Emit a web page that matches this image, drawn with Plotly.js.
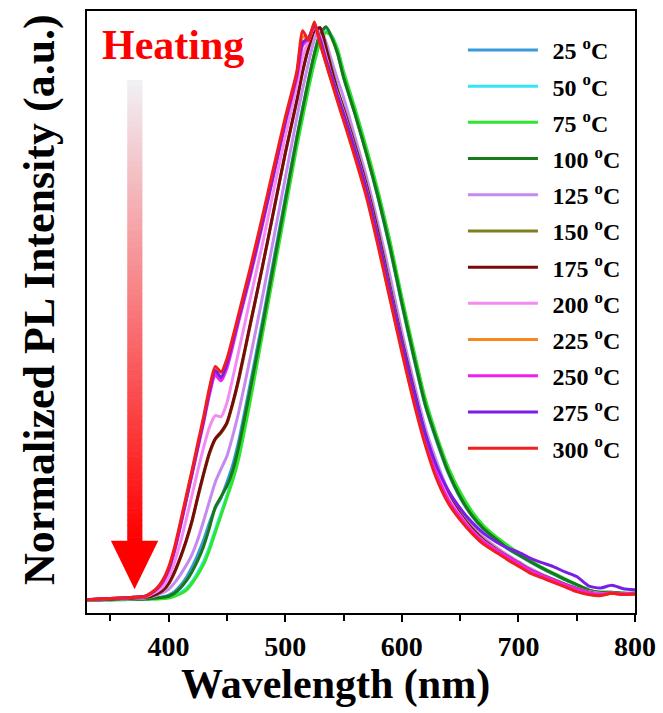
<!DOCTYPE html>
<html>
<head>
<meta charset="utf-8">
<script src="https://cdn.plot.ly/plotly-3.0.1.min.js"></script>
<style>html,body{margin:0;padding:0;background:#fff;}#chart{width:663px;height:713px;}</style>
</head>
<body>
<div id="chart"></div>
<script>
// Wavelength grid (nm)
const wavelength = [330,340,350,360,370,380,385,390,395,400,
  405,410,415,420,425,430,435,440,445,450,
  455,460,470,480,490,500,510,515,520,525,
  530,535,540,545,550,560,570,580,590,600,
  610,620,630,640,650,660,670,680,690,700,
  710,720,730,740,750,760,770,780,790,800];

const s25 = [.002,.002,.002,.003,.003,.003,.004,.005,.007,.010,
  .016,.026,.040,.058,.080,.105,.135,.160,.178,.205,
  .235,.275,.375,.478,.588,.695,.802,.852,.900,.945,
  .980,.990,.975,.945,.905,.840,.770,.693,.607,.512,
  .422,.338,.275,.220,.178,.147,.124,.107,.091,.079,
  .067,.056,.046,.036,.027,.018,.014,.014,.013,.013];
const s50 = [.002,.002,.002,.002,.003,.003,.003,.004,.004,.006,
  .009,.014,.021,.033,.049,.068,.093,.123,.152,.182,
  .212,.250,.350,.460,.570,.680,.790,.840,.888,.932,
  .968,.985,.975,.952,.912,.848,.778,.703,.618,.522,
  .432,.347,.283,.228,.186,.153,.129,.111,.096,.082,
  .069,.057,.047,.037,.027,.018,.014,.014,.013,.013];
const s75 = [.002,.002,.002,.002,.003,.003,.003,.003,.004,.005,
  .008,.012,.018,.030,.045,.063,.088,.118,.148,.178,
  .208,.245,.345,.455,.565,.675,.785,.835,.885,.930,
  .965,.982,.975,.952,.915,.850,.780,.705,.620,.525,
  .435,.350,.285,.230,.188,.155,.130,.112,.097,.083,
  .070,.058,.048,.038,.028,.019,.015,.015,.013,.013];
const s100 = [.002,.002,.002,.003,.003,.003,.004,.005,.006,.008,
  .013,.022,.034,.050,.070,.094,.126,.162,.180,.198,
  .225,.265,.365,.470,.580,.690,.800,.850,.900,.945,
  .980,.992,.972,.945,.905,.840,.770,.695,.610,.515,
  .425,.340,.278,.222,.180,.148,.125,.108,.092,.080,
  .068,.057,.047,.037,.028,.019,.015,.015,.013,.013];
const s125 = [.002,.002,.003,.003,.004,.005,.007,.010,.014,.020,
  .031,.045,.061,.080,.106,.138,.172,.205,.228,.250,
  .285,.325,.420,.520,.625,.730,.835,.885,.930,.970,
  .990,.965,.932,.900,.870,.800,.730,.648,.560,.465,
  .380,.300,.240,.190,.157,.131,.110,.094,.080,.068,
  .056,.046,.037,.029,.022,.016,.013,.013,.012,.012];
const s150 = [.002,.002,.003,.004,.005,.006,.008,.012,.018,.029,
  .048,.073,.102,.136,.178,.218,.254,.279,.290,.306,
  .340,.380,.476,.572,.672,.772,.864,.915,.956,.986,
  .990,.957,.918,.882,.852,.787,.717,.635,.543,.452,
  .368,.289,.229,.182,.151,.126,.106,.091,.078,.066,
  .054,.045,.037,.029,.021,.015,.012,.013,.012,.012];
const s175 = [.002,.002,.003,.004,.005,.006,.008,.012,.018,.030,
  .050,.075,.104,.138,.180,.220,.256,.280,.292,.308,
  .342,.383,.478,.573,.673,.773,.865,.915,.955,.985,
  .990,.955,.915,.880,.850,.785,.715,.632,.540,.450,
  .366,.287,.228,.181,.150,.125,.105,.090,.077,.065,
  .053,.044,.036,.028,.021,.015,.012,.013,.012,.012];
const s200 = [.002,.003,.004,.005,.006,.007,.011,.016,.024,.040,
  .066,.100,.140,.182,.225,.265,.300,.320,.318,.342,
  .385,.430,.522,.612,.708,.802,.890,.940,.968,.990,
  .975,.940,.905,.875,.845,.780,.710,.625,.535,.445,
  .360,.282,.224,.178,.147,.122,.103,.089,.076,.064,
  .052,.043,.035,.027,.020,.014,.012,.013,.012,.012];
const s225 = [.002,.003,.004,.005,.006,.008,.013,.021,.034,.055,
  .088,.130,.176,.221,.268,.313,.360,.392,.386,.408,
  .447,.488,.566,.650,.738,.828,.910,.975,.970,.996,
  .963,.930,.897,.864,.833,.768,.700,.614,.522,.434,
  .349,.274,.214,.171,.142,.119,.100,.087,.075,.063,
  .051,.042,.034,.026,.018,.013,.010,.013,.011,.012];
const s250 = [.002,.003,.004,.005,.006,.008,.013,.020,.032,.052,
  .085,.127,.172,.217,.263,.308,.356,.390,.380,.402,
  .440,.482,.560,.645,.735,.825,.905,.960,.972,.993,
  .965,.930,.898,.865,.835,.770,.700,.615,.525,.437,
  .352,.277,.218,.174,.145,.121,.102,.089,.077,.065,
  .053,.044,.036,.028,.020,.014,.011,.014,.012,.013];
const s275 = [.002,.003,.004,.005,.006,.008,.013,.021,.034,.055,
  .088,.130,.175,.220,.266,.312,.362,.398,.386,.410,
  .448,.488,.566,.650,.738,.828,.910,.965,.972,.995,
  .970,.935,.905,.872,.842,.778,.708,.625,.535,.447,
  .365,.290,.232,.190,.160,.136,.117,.103,.092,.084,
  .074,.066,.059,.050,.042,.026,.022,.027,.021,.019];
const s300 = [.002,.003,.004,.005,.006,.008,.014,.022,.036,.058,
  .092,.135,.180,.225,.272,.318,.368,.405,.395,.418,
  .455,.495,.575,.660,.748,.835,.915,.985,.968,1.00,
  .962,.928,.895,.862,.830,.765,.695,.610,.520,.430,
  .345,.270,.210,.168,.140,.117,.098,.085,.072,.060,
  .048,.040,.032,.024,.016,.011,.009,.013,.011,.012];

const seriesNames = ['25','50','75','100','125','150','175','200','225','250','275','300'];
const seriesValues = [s25,s50,s75,s100,s125,s150,s175,s200,s225,s250,s275,s300];
const seriesColors = ['#3a9ad9','#33e6f5','#2ee62e','#167a16','#c58af0','#7f7f1f',
  '#780a0a','#f28cf2','#f5891e','#f01ef0','#7a1ee6','#f21d1d'];
const xTickVals = [400,500,600,700,800];
const xTickText = ['400','500','600','700','800'];

const FONT = 'Liberation Serif, Times New Roman, serif';

const traces = seriesNames.map((n,i)=>({
  type:'scatter', mode:'lines', x: wavelength, y: seriesValues[i],
  name: '\u2009\u2009' + n + ' <sup>o</sup>C', legendgroup: 'g'+i,
  line:{color: seriesColors[i], width:3, shape:'spline', smoothing:0.6},
  hoverinfo:'skip'
}));

// Arrow decoration (gradient shaft + head)
const shapes = [];
const shaftTop = 0.90, shaftBot = 0.10, N = 80;
for (let i=0;i<N;i++){
  const t = i/(N-1);
  const y1 = shaftTop - (shaftTop-shaftBot)*i/N;
  const y0 = shaftTop - (shaftTop-shaftBot)*(i+1)/N;
  const r = Math.round(240 + 15*t), g = Math.round(240*(1-t)), b = Math.round(245*(1-t));
  const c = `rgb(${r},${g},${b})`;
  shapes.push({type:'rect', xref:'x', yref:'y', x0:364.5, x1:377.5, y0:y0-0.001, y1:y1,
    fillcolor:c, line:{width:0}, layer:'below'});
}
shapes.push({type:'path', xref:'x', yref:'y',
  path:'M 350.5 0.104 L 391.1 0.104 L 370.8 0.02 Z',
  fillcolor:'#ff0000', line:{width:0}, layer:'below'});

const layout = {
  width:663, height:713,
  margin:{l:87, r:28, t:11, b:100},
  paper_bgcolor:'#fff', plot_bgcolor:'#fff',
  showlegend:true,
  legend:{x:0.686, y:0.972, xanchor:'left', yanchor:'top',
    font:{family:FONT, size:24, weight:'bold', color:'#000'},
    bgcolor:'rgba(0,0,0,0)', borderwidth:0, itemwidth:70,
    traceorder:'grouped', tracegroupgap:2},
  xaxis:{range:[330,800], tickmode:'array', tickvals:xTickVals, ticktext:xTickText,
    ticks:'outside', ticklen:7, tickwidth:2, tickcolor:'#000',
    minor:{dtick:50, tick0:350, ticks:'outside', ticklen:6, tickwidth:2, tickcolor:'#000'},
    showline:true, linewidth:2, linecolor:'#000', mirror:true,
    showgrid:false, zeroline:false,
    tickfont:{family:FONT, size:28, weight:'bold', color:'#000'}},
  yaxis:{range:[-0.021,1.019], showticklabels:false, ticks:'',
    showline:true, linewidth:2, linecolor:'#000', mirror:true,
    showgrid:false, zeroline:false},
  annotations:[
    {xref:'paper', yref:'paper', x:0.157, y:0.944, xanchor:'center', yanchor:'middle',
     text:'Heating', showarrow:false, font:{family:FONT, size:42, weight:'bold', color:'#ff0000'}},
    {xref:'paper', yref:'paper', x:0.4526, y:-0.1185, xanchor:'center', yanchor:'middle',
     text:'Wavelength (nm)', showarrow:false, font:{family:FONT, size:42, weight:'bold', color:'#000'}},
    {xref:'paper', yref:'paper', x:-0.0858, y:0.5216, xanchor:'center', yanchor:'middle', textangle:-90,
     text:'Normalized PL Intensity (a.u.)', showarrow:false, font:{family:FONT, size:44, weight:'bold', color:'#000'}}
  ],
  shapes: shapes
};

Plotly.newPlot('chart', traces, layout, {displayModeBar:false, staticPlot:true});
</script>
</body>
</html>
